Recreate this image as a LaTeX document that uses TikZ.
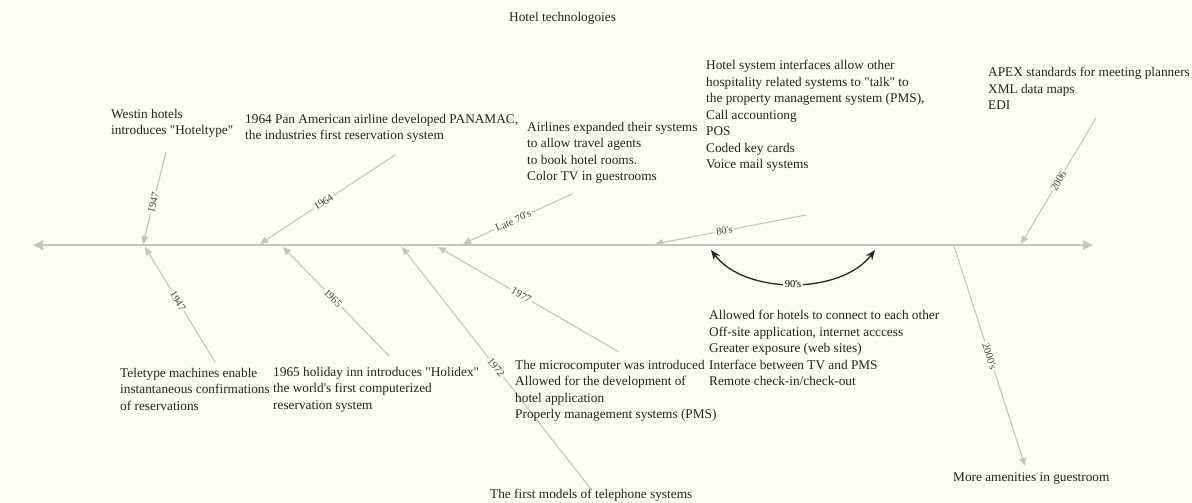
\documentclass[tikz,border=0pt]{standalone}
\usepackage{fontspec}
\setmainfont{Liberation Serif}[Ligatures=TeXOff]
\usetikzlibrary{arrows.meta}
\definecolor{paper}{RGB}{253,253,244}
\definecolor{rail}{RGB}{198,198,190}
\definecolor{ink}{RGB}{36,36,32}
\tikzset{timeline/.style={
  x=1pt,y=-1pt,
  line join=round,line cap=round
},
  axis/.style={draw=rail,line width=2.4pt,{Triangle[length=10pt,width=9pt]}-{Triangle[length=10pt,width=9pt]}},
  spoke/.style={draw=rail,line width=1.1pt,-{Triangle[length=8pt,width=7pt]}},
  swing/.style={draw=black!85,line width=1.3pt,{Stealth[length=10pt,width=8pt]}-{Stealth[length=10pt,width=8pt]}},
  note/.style={anchor=north west,inner sep=0pt,align=left,text=ink,font=\fontsize{13.3}{16.5}\selectfont},
  year/.style={sloped,fill=paper,inner sep=1.5pt,text=ink!85,font=\fontsize{10.5}{12}\selectfont}
}

\begin{document}
\begin{tikzpicture}[timeline]
  \fill[paper] (0,0) rectangle (1192,503);
  \useasboundingbox (0,0) rectangle (1192,503);

  \coordinate (L) at (33,245);
  \coordinate (R) at (1093,245);

  \coordinate (A1) at (143,244);
  \coordinate (A2) at (260,244);
  \coordinate (A3) at (463,244);
  \coordinate (A4) at (655,244);
  \coordinate (A5) at (1021,244);
  \coordinate (B1) at (145,247);
  \coordinate (B2) at (283,247);
  \coordinate (B3) at (402,247);
  \coordinate (B4) at (438,247);
  \coordinate (B5) at (954,246);
  \coordinate (N1) at (711,250);
  \coordinate (N2) at (875,250);

  \coordinate (U1) at (166,152);
  \coordinate (U2) at (395,155);
  \coordinate (U3) at (572,194);
  \coordinate (U4) at (806,215);
  \coordinate (U5) at (1096,118);
  \coordinate (D1) at (215,362);
  \coordinate (D2) at (389,356);
  \coordinate (D3) at (590,488);
  \coordinate (D4) at (619,352);
  \coordinate (D5) at (1025,466);

  \draw[axis] (L)--(R);

  \draw[spoke] (U1)-- node[year,pos=.55]{1947} (A1);
  \draw[spoke] (U2)-- node[year,pos=.53]{1964} (A2);
  \draw[spoke] (U3)-- node[year,pos=.54]{Late 70's} (A3);
  \draw[spoke] (U4)-- node[year,pos=.54]{80's} (A4);
  \draw[spoke] (U5)-- node[year,pos=.5]{2006} (A5);
  \draw[spoke] (D1)-- node[year,pos=.53]{1947} (B1);
  \draw[spoke] (D2)-- node[year,pos=.53]{1965} (B2);
  \draw[spoke] (D3)-- node[year,pos=.5]{1972} (B3);
  \draw[spoke] (D4)-- node[year,pos=.54]{1977} (B4);
  \draw[spoke] (B5)-- node[year,pos=.5]{2000's} (D5);

  \draw[swing] (N1) .. controls (745,295) and (841,295) .. node[year,text=black]{90's} (N2);

  \node[note] (TT) at (509,12){Hotel technologoies};
  \node[note] (W) at (111,109){Westin hotels\\introduces "Hoteltype"};
  \node[note] (P) at (245,114){1964 Pan American airline developed PANAMAC,\\the industries first reservation system};
  \node[note] (AL) at (527,122){Airlines expanded their systems\\to allow travel agents\\to book hotel rooms.\\Color TV in guestrooms};
  \node[note] (HS) at (706,60){Hotel system interfaces allow other\\hospitality related systems to "talk" to\\the property management system (PMS),\\Call accountiong\\POS\\Coded key cards\\Voice mail systems};
  \node[note] (AX) at (988,67){APEX standards for meeting planners\\XML data maps\\EDI};
  \node[note] (TM) at (120,368){Teletype machines enable\\instantaneous confirmations\\of reservations};
  \node[note] (HI) at (273,367){1965 holiday inn introduces "Holidex"\\the world's first computerized\\reservation system};
  \node[note] (MC) at (515,360){The microcomputer was introduced\\Allowed for the development of\\hotel application\\Properly management systems (PMS)};
  \node[note] (FM) at (490,489){The first models of telephone systems};
  \node[note] (NT) at (709,310){Allowed for hotels to connect to each other\\Off-site application, internet acccess\\Greater exposure (web sites)\\Interface between TV and PMS\\Remote check-in/check-out};
  \node[note] (MA) at (953,472){More amenities in guestroom};
\end{tikzpicture}
\end{document}
